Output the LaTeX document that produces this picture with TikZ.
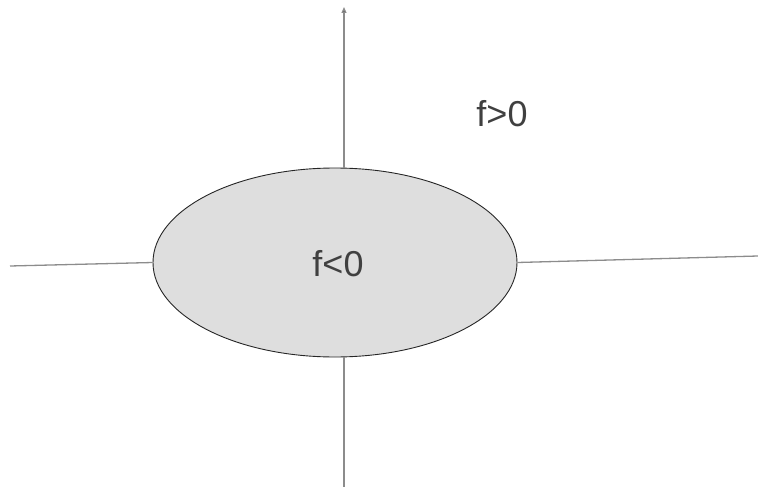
\documentclass[tikz,border=0pt]{standalone}
\usepackage{fontspec}
\setmainfont{Liberation Sans}
\usetikzlibrary{shapes.geometric,arrows.meta}
\begin{document}
\begin{tikzpicture}[x=1pt,y=-1pt,
  axis/.style={draw=black!45,line width=1.3pt},
  lbl/.style={font=\fontsize{36}{40}\selectfont,text=black!75,inner sep=0pt}]
\useasboundingbox (0,0) rectangle (758,487);
\node[ellipse,draw=black!85,fill=black!13,line width=0.9pt,minimum width=364pt,minimum height=189pt,inner sep=0pt] (E) at (335,262.5) {};
\coordinate (T) at (344,7);
\coordinate (B) at (344,487);
\coordinate (L) at (10,266);
\coordinate (R) at (758,256);
\draw[axis,-{Triangle[length=6pt,width=5pt,fill=black]}] (E.north -| T) ++(0,0.6) -- (T);
\draw[axis] (E.south -| B) ++(0,-0.6) -- (B);
\draw[axis] (L) -- (E.west);
\draw[axis] (E.east) -- (R);
\node[lbl] (neg) at (338,264) {f<0};
\node[lbl] (pos) at (502,114) {f>0};
\end{tikzpicture}
\end{document}
